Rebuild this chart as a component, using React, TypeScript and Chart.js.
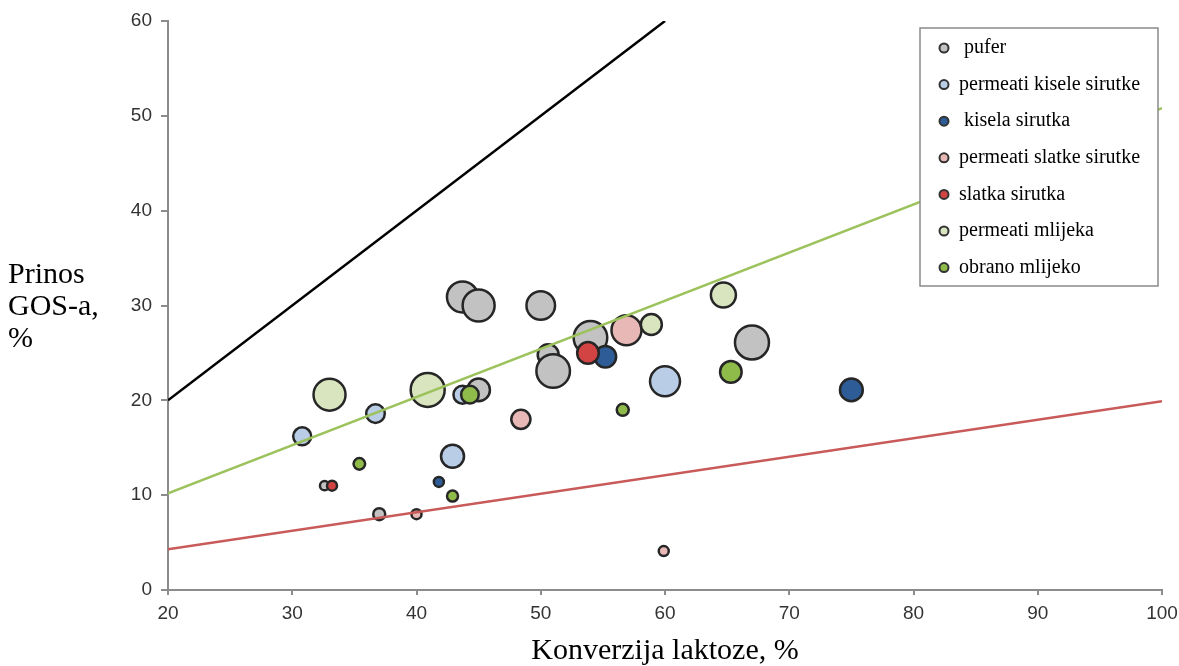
import React, { useEffect, useRef } from "react";
import { Chart, registerables } from "chart.js";

Chart.register(...registerables);

// ---- data ----
const seriesLabels = [
  " pufer",
  "permeati kisele sirutke",
  " kisela sirutka",
  "permeati slatke sirutke",
  "slatka sirutka",
  "permeati mlijeka",
  "obrano mlijeko",
];
const seriesColors = ["#c2c2c2", "#b9cde6", "#2e5c96", "#e8b8b7", "#d24444", "#d8e5bf", "#8fbb4a"];
// drawing order (lower = on top)
const seriesOrder = [7, 6, 5, 4, 3, 2, 1];

const pufer = [
  { x: 43.7, y: 30.9, r: 15.5 },
  { x: 45.0, y: 30.0, r: 16 },
  { x: 50.0, y: 30.0, r: 14.3 },
  { x: 54.0, y: 26.6, r: 16.8 },
  { x: 50.6, y: 24.8, r: 10.5 },
  { x: 51.0, y: 23.1, r: 16.8 },
  { x: 45.0, y: 21.1, r: 11.3 },
  { x: 67.0, y: 26.1, r: 17 },
  { x: 32.6, y: 11.0, r: 4.6 },
  { x: 37.0, y: 8.0, r: 6 },
];
const permeatiKiseleSirutke = [
  { x: 30.8, y: 16.2, r: 9 },
  { x: 36.7, y: 18.6, r: 9.3 },
  { x: 42.9, y: 14.1, r: 11.5 },
  { x: 43.7, y: 20.6, r: 9 },
  { x: 60.0, y: 22.0, r: 15 },
];
const kiselaSirutka = [
  { x: 55.2, y: 24.6, r: 10.8 },
  { x: 75.0, y: 21.1, r: 11.4 },
  { x: 41.8, y: 11.4, r: 5 },
];
const permeatiSlatkeSirutke = [
  { x: 56.9, y: 27.4, r: 15 },
  { x: 48.4, y: 18.0, r: 9.6 },
  { x: 40.0, y: 8.0, r: 5 },
  { x: 59.9, y: 4.1, r: 5 },
];
const slatkaSirutka = [
  { x: 53.8, y: 25.0, r: 10.8 },
  { x: 33.2, y: 11.0, r: 5 },
];
const permeatiMlijeka = [
  { x: 33.0, y: 20.6, r: 16 },
  { x: 40.9, y: 21.1, r: 17 },
  { x: 64.7, y: 31.1, r: 12.5 },
  { x: 58.9, y: 28.0, r: 10.5 },
];
const obranoMlijeko = [
  { x: 44.3, y: 20.6, r: 8.8 },
  { x: 35.4, y: 13.3, r: 5.8 },
  { x: 65.3, y: 23.0, r: 10.8 },
  { x: 56.6, y: 19.0, r: 6 },
  { x: 42.9, y: 9.9, r: 5.5 },
];
const seriesData = [
  pufer,
  permeatiKiseleSirutke,
  kiselaSirutka,
  permeatiSlatkeSirutke,
  slatkaSirutka,
  permeatiMlijeka,
  obranoMlijeko,
];

const lineBlack = [
  { x: 20, y: 20 },
  { x: 60, y: 60 },
];
const lineGreen = [
  { x: 20, y: 10.2 },
  { x: 100, y: 50.8 },
];
const lineRed = [
  { x: 20, y: 4.3 },
  { x: 100, y: 19.9 },
];
const refLines = [lineBlack, lineGreen, lineRed];
const refLineColors = ["#000000", "#9cc25c", "#c85a5a"];

const xMin = 20;
const xMax = 100;
const xStep = 10;
const yMin = 0;
const yMax = 60;
const yStep = 10;

const xTitle = "Konverzija laktoze, %";
const yTitleLines = ["Prinos", "GOS-a,", "%"];

const SERIF = "'Liberation Serif', 'Times New Roman', serif";
const SANS = "'Liberation Sans', Arial, sans-serif";

const overlayPlugin = {
  id: "overlay",
  afterDraw(chart: any) {
    const ctx = chart.ctx;
    const area = chart.chartArea;
    ctx.save();
    // y title (horizontal, three lines)
    ctx.fillStyle = "#000";
    ctx.font = `30px ${SERIF}`;
    ctx.textAlign = "left";
    ctx.textBaseline = "alphabetic";
    yTitleLines.forEach((t, i) => {
      ctx.fillText(t, 8, 283 + i * 32);
    });

    // legend box
    const boxW = 238;
    const boxH = 258;
    const bx = area.right - boxW - 4;
    const by = area.top + 7;
    ctx.fillStyle = "#ffffff";
    ctx.fillRect(bx, by, boxW, boxH);
    ctx.strokeStyle = "#8a8a8a";
    ctx.lineWidth = 1.5;
    ctx.strokeRect(bx, by, boxW, boxH);

    const items = chart.data.datasets.filter((d: any) => d.legendItem);
    ctx.font = `20px ${SERIF}`;
    ctx.textBaseline = "middle";
    items.forEach((d: any, i: number) => {
      const cy = by + 20 + i * 36.6;
      ctx.beginPath();
      ctx.arc(bx + 24, cy, 4.5, 0, Math.PI * 2);
      ctx.fillStyle = d.backgroundColor;
      ctx.fill();
      ctx.lineWidth = 2;
      ctx.strokeStyle = "#333";
      ctx.stroke();
      ctx.fillStyle = "#000";
      ctx.fillText(d.label, bx + 39, cy);
    });
    ctx.restore();
  },
};

export default function App() {
  const ref = useRef<HTMLCanvasElement | null>(null);

  useEffect(() => {
    if (!ref.current) return;
    const datasets: any[] = [];
    refLines.forEach((pts, i) => {
      datasets.push({
        type: "line",
        label: "line" + i,
        data: pts,
        borderColor: refLineColors[i],
        borderWidth: 2.5,
        pointRadius: 0,
        fill: false,
        order: 0,
        legendItem: false,
      });
    });
    seriesData.forEach((pts, i) => {
      datasets.push({
        type: "bubble",
        label: seriesLabels[i],
        data: pts,
        backgroundColor: seriesColors[i],
        borderColor: "#262626",
        borderWidth: 2.5,
        order: seriesOrder[i],
        legendItem: true,
      });
    });

    const chart = new Chart(ref.current, {
      type: "bubble",
      data: { datasets },
      plugins: [overlayPlugin],
      options: {
        responsive: false,
        animation: false,
        events: [],
        layout: { autoPadding: false, padding: { left: 0, right: 0, top: 21, bottom: 0 } },
        plugins: {
          legend: { display: false },
          tooltip: { enabled: false },
        },
        scales: {
          x: {
            type: "linear",
            min: xMin,
            max: xMax,
            ticks: {
              stepSize: xStep,
              color: "#333333",
              font: { family: SANS, size: 19 },
              padding: 7,
            },
            grid: {
              drawOnChartArea: false,
              drawTicks: true,
              tickLength: 5,
              color: "#8c8c8c",
              lineWidth: 2,
            },
            border: { display: true, color: "#8c8c8c", width: 2 },
            title: {
              display: true,
              text: xTitle,
              color: "#000",
              font: { family: SERIF, size: 30, lineHeight: 1 },
              padding: { top: 0, bottom: 0 },
            },
            afterFit: (scale: any) => {
              scale.height = 76;
              scale.paddingLeft = 0;
              scale.paddingRight = 17;
            },
          },
          y: {
            type: "linear",
            min: yMin,
            max: yMax,
            ticks: {
              stepSize: yStep,
              color: "#333333",
              font: { family: SANS, size: 19 },
              padding: 9,
            },
            grid: {
              drawOnChartArea: false,
              drawTicks: true,
              tickLength: 7,
              color: "#8c8c8c",
              lineWidth: 2,
            },
            border: { display: true, color: "#8c8c8c", width: 2 },
            afterFit: (scale: any) => {
              scale.width = 168;
            },
          },
        },
      } as any,
    } as any);
    return () => chart.destroy();
  }, []);

  return (
    <div style={{ position: "fixed", left: 0, top: 0, width: 1179, height: 666, background: "#fff" }}>
      <canvas ref={ref} width={1179} height={666} />
    </div>
  );
}
